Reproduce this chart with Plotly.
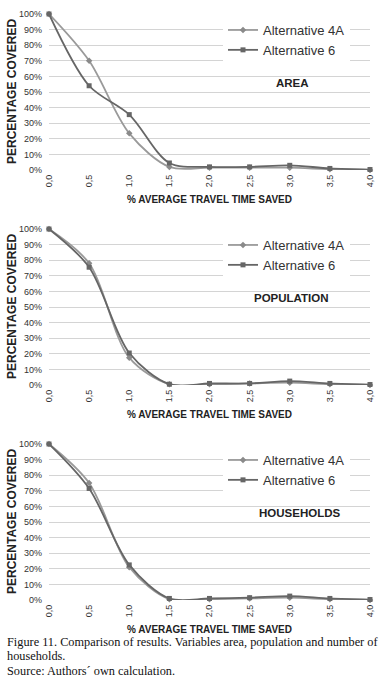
import plotly.graph_objects as go

x_vals = [0.0, 0.5, 1.0, 1.5, 2.0, 2.5, 3.0, 3.5, 4.0]
x_labels = ["0,0", "0,5", "1,0", "1,5", "2,0", "2,5", "3,0", "3,5", "4,0"]

area_4a = [100, 70, 23.5, 2, 1.5, 1.5, 1.5, 0.5, 0]
area_6 = [100, 54, 35.5, 4.5, 2, 2, 3, 1, 0.3]
pop_4a = [100, 78, 17.5, 0.5, 0.5, 1, 1.5, 0.5, 0]
pop_6 = [100, 75.5, 20.5, 0.5, 1, 1, 2.5, 1, 0.3]
hh_4a = [100, 75, 21, 0.5, 0.5, 1, 1.5, 0.5, 0]
hh_6 = [100, 71.5, 22.5, 1, 1, 1.5, 2.5, 1, 0.3]

panels = [("AREA", area_4a, area_6), ("POPULATION", pop_4a, pop_6), ("HOUSEHOLDS", hh_4a, hh_6)]
series_names = ["Alternative 4A", "Alternative 6"]
caption_lines = [
    "Figure 11. Comparison of results. Variables area, population and number of",
    "households.",
    "Source: Authors\u00b4 own calculation.",
]

W, H = 384, 678
tops = [14, 229, 444]
bottoms = [170, 385, 600]
x0, x1 = 49, 370

fig = go.Figure()
layout = dict(
    width=W, height=H, margin=dict(l=0, r=0, t=0, b=0),
    paper_bgcolor="white", plot_bgcolor="white",
    font=dict(family="Liberation Sans, Arial", color="#222222"),
    showlegend=True,
)
annotations = []
for i, (title, s4a, s6) in enumerate(panels):
    k = "" if i == 0 else str(i + 1)
    xa = "x" + k
    ya = "y" + k
    leg = "legend" if i == 0 else "legend" + str(i + 1)
    fig.add_trace(go.Scatter(
        x=x_vals, y=s4a, name=series_names[0], xaxis=xa, yaxis=ya,
        mode="lines+markers", line=dict(shape="spline", smoothing=0.9, color="#9a9a9a", width=1.8),
        marker=dict(symbol="diamond", size=5, color="#8a8a8a"), cliponaxis=False, legend=leg))
    fig.add_trace(go.Scatter(
        x=x_vals, y=s6, name=series_names[1], xaxis=xa, yaxis=ya,
        mode="lines+markers", line=dict(shape="spline", smoothing=0.9, color="#666666", width=1.8),
        marker=dict(symbol="square", size=5, color="#666666"), cliponaxis=False, legend=leg))
    dom_y = [1 - bottoms[i] / H, 1 - tops[i] / H]
    layout["xaxis" + k] = dict(
        domain=[x0 / W, x1 / W], range=[0, 4], anchor=ya,
        tickmode="array", tickvals=x_vals, ticktext=x_labels, tickangle=-90,
        tickfont=dict(size=9, color="#333333"), showgrid=False, zeroline=False,
        showline=False, automargin=False, ticklabelstandoff=2,
        title=dict(text="<b>% AVERAGE TRAVEL TIME SAVED</b>", font=dict(size=10, color="#222222"), standoff=9),
    )
    layout["yaxis" + k] = dict(
        domain=dom_y, range=[0, 100], anchor=xa,
        tickmode="array", tickvals=list(range(0, 101, 10)),
        ticktext=[f"{v}%" for v in range(0, 101, 10)],
        tickfont=dict(size=9, color="#333333"), showgrid=True, gridcolor="#d4d4d4", gridwidth=1,
        zeroline=False, showline=False, automargin=False, ticklabelstandoff=6,
    )
    annotations.append(dict(
        text="<b>PERCENTAGE COVERED</b>", xref="paper", yref="paper", x=12 / W,
        y=1 - (tops[i] + bottoms[i]) / 2 / H, xanchor="center", yanchor="middle", textangle=-90,
        showarrow=False, font=dict(size=12, color="#222222")))
    layout[leg] = dict(
        x=223 / W, y=1 - (tops[i] + 1) / H, xanchor="left", yanchor="top",
        bgcolor="white", borderwidth=0, font=dict(size=13, color="#333333"),
        itemwidth=30, tracegroupgap=2,
    )
    cx = [292, 291, 299][i]
    annotations.append(dict(
        text=f"<b>{title}</b>", xref="paper", yref="paper", x=cx / W, y=1 - (tops[i] + 69) / H,
        xanchor="center", yanchor="middle", showarrow=False, font=dict(size=11.5, color="#222222")))

for j, line in enumerate(caption_lines):
    annotations.append(dict(
        text=line, xref="paper", yref="paper", x=5 / W, y=1 - (641.5 + 14.5 * j) / H,
        xanchor="left", yanchor="middle", align="left", showarrow=False,
        font=dict(family="Liberation Serif, Times New Roman", size=12.3, color="#111111")))
layout["annotations"] = annotations
fig.update_layout(**layout)
fig.write_html("out.html", config={"displayModeBar": False},
               post_script="document.body.style.margin='0';document.body.style.overflow='hidden';")
